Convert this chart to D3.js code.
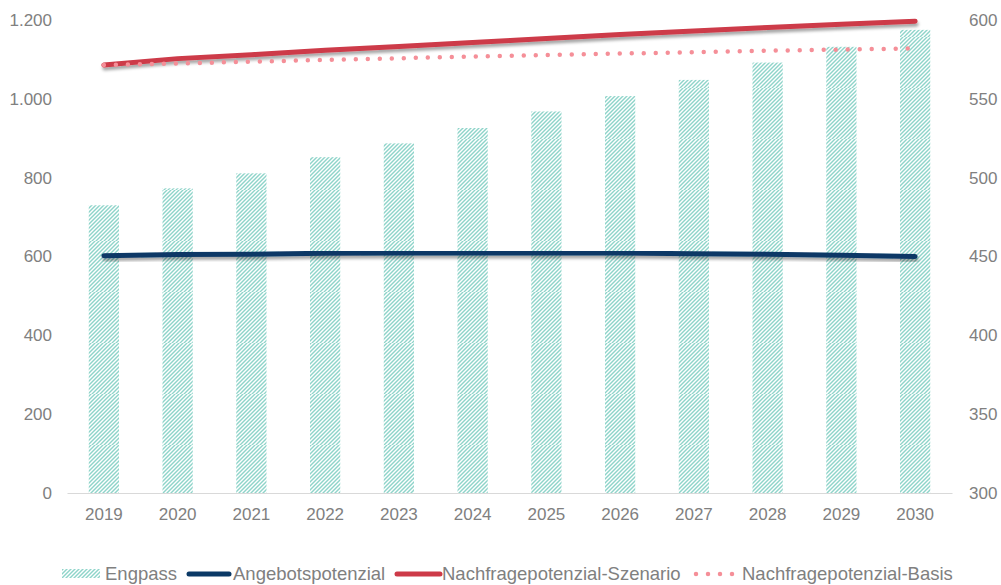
<!DOCTYPE html>
<html>
<head>
<meta charset="utf-8">
<style>
  body { margin: 0; background: #fff; }
  text { font-family: "Liberation Sans", Arial, sans-serif; fill: #808080; }
</style>
</head>
<body>
<script src="https://d3js.org/d3.v7.min.js"></script>
<script>
// values
var years = ["2019","2020","2021","2022","2023","2024","2025","2026","2027","2028","2029","2030"];
var engpass = [730, 773, 811, 852, 887, 926, 968, 1007, 1048, 1092, 1132, 1175];
var angebot = [602, 605, 606, 608, 609, 609, 609, 609, 607, 606, 603, 600];
var nachfrageSzenario = [1086, 1102, 1112, 1123, 1133, 1143, 1153, 1163, 1172, 1181, 1189, 1197];
var nachfrageBasis = [1086, 1090, 1094, 1099, 1103, 1107, 1111, 1115, 1118, 1122, 1125, 1128];
var leftTicks = [0, 200, 400, 600, 800, 1000, 1200];
var rightTicks = [300, 350, 400, 450, 500, 550, 600];

var width = 1001, height = 585;
var margin = {top: 20, right: 49, bottom: 92, left: 67};
var innerW = width - margin.left - margin.right,
    innerH = height - margin.top - margin.bottom;

var svg = d3.select("body").append("svg")
    .attr("width", width)
    .attr("height", height);

var defs = svg.append("defs");

// hatch fill for Engpass bars
var pat = defs.append("pattern")
    .attr("id", "hatch")
    .attr("patternUnits", "userSpaceOnUse")
    .attr("width", 4).attr("height", 51)
    .attr("y", 17);
var hd = "";
for (var k = -8; k <= 60; k += 4) hd += "M-1," + (k + 1) + "L5," + (k - 5);
pat.append("path")
    .attr("d", hd)
    .attr("stroke", "#8ed4c9")
    .attr("stroke-width", 1.3);

var shadow = defs.append("filter")
    .attr("id", "shadow")
    .attr("x", "-5%").attr("y", "-50%")
    .attr("width", "110%").attr("height", "300%");
shadow.append("feDropShadow")
    .attr("dx", 1).attr("dy", 3)
    .attr("stdDeviation", 1.6)
    .attr("flood-color", "#000")
    .attr("flood-opacity", 0.35);

var g = svg.append("g")
    .attr("transform", "translate(" + margin.left + "," + margin.top + ")");

var x = d3.scaleBand().domain(years).range([0, innerW]).paddingInner(0.59).paddingOuter(0.295);
var y = d3.scaleLinear().domain([0, 1200]).range([innerH, 0]);
var y2 = d3.scaleLinear().domain([300, 600]).range([innerH, 0]);

var de = d3.formatLocale({decimal: ",", thousands: ".", grouping: [3], currency: ["", " €"]});
var fmt = de.format(",");

// bars
g.selectAll(".bar")
    .data(engpass)
    .enter().append("rect")
    .attr("class", "bar")
    .attr("x", function(d, i) { return x(years[i]); })
    .attr("width", x.bandwidth())
    .attr("y", function(d) { return y(d); })
    .attr("height", function(d) { return innerH - y(d); })
    .attr("fill", "url(#hatch)");

// x axis
var xAxis = g.append("g")
    .attr("transform", "translate(0," + innerH + ")")
    .call(d3.axisBottom(x).tickSize(0).tickPadding(15));
xAxis.select(".domain").attr("stroke", "#d9d9d9").attr("stroke-width", 1.2);
xAxis.selectAll("text").style("font-size", "17px").attr("fill", "#808080");

var yAxis = g.append("g")
    .call(d3.axisLeft(y).tickValues(leftTicks).tickFormat(fmt).tickSize(0).tickPadding(15));
yAxis.select(".domain").remove();
yAxis.selectAll("text").style("font-size", "17px").attr("fill", "#808080");

var yAxis2 = g.append("g")
    .attr("transform", "translate(" + innerW + ",0)")
    .call(d3.axisRight(y2).tickValues(rightTicks).tickSize(0).tickPadding(17));
yAxis2.select(".domain").remove();
yAxis2.selectAll("text").style("font-size", "17px").attr("fill", "#808080");

var line = d3.line()
    .x(function(d, i) { return x(years[i]) + x.bandwidth() / 2; })
    .y(function(d) { return y(d); });

g.append("path")
    .attr("d", line(angebot))
    .attr("fill", "none")
    .attr("stroke", "#0b3966")
    .attr("stroke-width", 5)
    .attr("stroke-linecap", "round")
    .attr("filter", "url(#shadow)");

g.append("path")
    .attr("d", line(nachfrageSzenario))
    .attr("fill", "none")
    .attr("stroke", "#cd3a48")
    .attr("stroke-width", 5)
    .attr("stroke-linecap", "round")
    .attr("filter", "url(#shadow)");

g.append("path")
    .attr("d", line(nachfrageBasis))
    .attr("fill", "none")
    .attr("stroke", "#f58f98")
    .attr("stroke-width", 4.5)
    .attr("stroke-linecap", "round")
    .attr("stroke-dasharray", "0 12");

// legend
var legend = svg.append("g").attr("transform", "translate(0,574)");
var items = [
    {name: "Engpass", type: "bar", x0: 62, x1: 100, tx: 105},
    {name: "Angebotspotenzial", type: "line", color: "#0b3966", x0: 189, x1: 229, tx: 233},
    {name: "Nachfragepotenzial-Szenario", type: "line", color: "#cd3a48", x0: 397, x1: 440, tx: 442},
    {name: "Nachfragepotenzial-Basis", type: "dot", color: "#f58f98", x0: 696, x1: 736, tx: 742}
];
items.forEach(function(it) {
    if (it.type === "bar") {
        legend.append("rect")
            .attr("x", it.x0).attr("y", -5)
            .attr("width", it.x1 - it.x0).attr("height", 9)
            .attr("fill", "url(#hatch)");
    } else {
        legend.append("line")
            .attr("x1", it.x0).attr("x2", it.x1)
            .attr("y1", 0).attr("y2", 0)
            .attr("stroke", it.color)
            .attr("stroke-width", it.type === "dot" ? 4.5 : 5)
            .attr("stroke-linecap", "round")
            .attr("stroke-dasharray", it.type === "dot" ? "0 12" : null);
    }
    legend.append("text")
        .attr("x", it.tx).attr("y", 0)
        .attr("dy", "0.35em")
        .style("font-size", "18.5px")
        .text(it.name);
});
</script>
</body>
</html>
